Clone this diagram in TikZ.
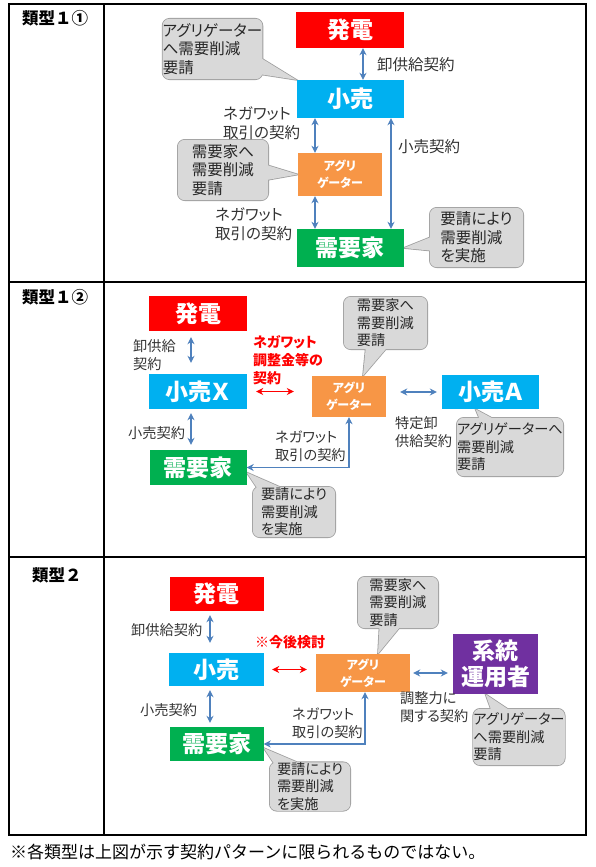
\documentclass[tikz,border=0pt]{standalone}
\usepackage{fontspec}
\setmainfont{Noto Sans CJK JP}[RawFeature=+palt]
\newfontfamily\plainjp{Noto Sans CJK JP}
\usetikzlibrary{arrows.meta,calc}
\pgfdeclarelayer{bg}
\pgfsetlayers{bg,main}
\definecolor{cred}{HTML}{FF0000}
\definecolor{cblue}{HTML}{00B0F0}
\definecolor{corange}{HTML}{F79646}
\definecolor{cgreen}{HTML}{00B050}
\definecolor{cpurple}{HTML}{7030A0}
\definecolor{clink}{HTML}{4F81BD}

% bubble shape with its pointer, drawn behind the bubble text
\newcommand\calloutto[2]{%
  \begin{pgfonlayer}{bg}
    \draw[bubbleedge] [rounded corners=7pt] (#1.south west) rectangle (#1.north east)
      [sharp corners] ($(#1.center)!18pt!90:(#2)$) -- (#2) -- ($(#1.center)!18pt!-90:(#2)$) -- cycle;
    \fill[bubblebody] [rounded corners=7pt] (#1.south west) rectangle (#1.north east)
      [sharp corners] ($(#1.center)!18pt!90:(#2)$) -- (#2) -- ($(#1.center)!18pt!-90:(#2)$) -- cycle;
  \end{pgfonlayer}}

\begin{document}
\begin{tikzpicture}[x=1pt,y=-1pt,
    box/.style={inner sep=0pt, align=center, text=white, font=\fontsize{23}{26}\selectfont\bfseries},
    agg/.style={fill=corange, inner sep=0pt, align=center, text=white, font=\fontsize{12}{17}\selectfont\bfseries},
    lbl/.style={anchor=west, inner sep=0pt, align=left, text=black!80, font=\fontsize{14.2}{17.5}\selectfont},
    redlbl/.style={anchor=west, inner sep=0pt, align=left, text=cred, font=\fontsize{14}{18}\selectfont\bfseries},
    bubble/.style={inner sep=0pt, align=left, text=black!85, font=\fontsize{14.2}{17.5}\selectfont},
    big/.style={font=\fontsize{15.5}{18.5}\selectfont},
    bubbleedge/.style={draw=black!38, line width=1.6pt},
    bubblebody/.style={fill=black!15},
    link/.style={{Stealth[length=7pt,width=7pt]}-{Stealth[length=7pt,width=7pt]}, clink, line width=1.8pt},
    redlink/.style={{Stealth[length=7pt,width=7pt]}-{Stealth[length=7pt,width=7pt]}, cred, line width=1.3pt},
    rowlbl/.style={anchor=west, inner sep=0pt, font=\plainjp\fontsize{16.5}{18}\selectfont\bfseries},
    note/.style={anchor=west, inner sep=0pt, font=\plainjp\fontsize{17}{20}\selectfont}]
  \useasboundingbox (0,0) rectangle (595,867);

  % table
  \draw[line width=1.2pt] (9,4) rectangle (586,835);
  \draw[line width=1.2pt] (104,4) -- (104,835);
  \draw[line width=1.2pt] (9,282) -- (586,282);
  \draw[line width=1.2pt] (9,557) -- (586,557);
  \node[rowlbl] (row1) at (22,18) {類型１①};
  \node[rowlbl] (row2) at (22,297) {類型１②};
  \node[rowlbl] (row3) at (32,575) {類型２};

  % type 1-1
  \node[box, fill=cred, minimum width=108pt, minimum height=36pt] (hatsuden1) at (350,30) {発電};
  \node[box, fill=cblue, minimum width=107pt, minimum height=38pt] (kouri1) at (350,99) {小売};
  \node[agg, minimum width=84pt, minimum height=43pt] (agg1) at (340,174.5) {アグリ\\ゲーター};
  \node[box, fill=cgreen, minimum width=107pt, minimum height=38pt] (juyou1) at (350,248) {需要家};
  \draw[link] ([xshift=13pt]hatsuden1.south) -- ([xshift=13pt]kouri1.north);
  \draw[link] ([xshift=-25pt]agg1.north) -- ([xshift=-25pt]kouri1.south -| agg1.north);
  \draw[link] ([xshift=-25pt]agg1.south) -- ([xshift=-25pt]juyou1.north -| agg1.south);
  \draw[link] ([xshift=41pt]kouri1.south) -- ([xshift=41pt]juyou1.north);
  \node[lbl, big] (l1a) at (377,65) {卸供給契約};
  \node[lbl, big] (l1b) at (223,123) {ネガワット\\取引の契約};
  \node[lbl, big] (l1c) at (215,224) {ネガワット\\取引の契約};
  \node[lbl, big] (l1d) at (398,147) {小売契約};
  \node[bubble, big, minimum width=99pt, minimum height=60pt] (b1a) at (212.5,49) {アグリゲーター\\へ需要削減\\要請};
  \node[bubble, big, minimum width=90pt, minimum height=60pt] (b1b) at (223,170) {需要家へ\\需要削減\\要請};
  \node[bubble, big, minimum width=93pt, minimum height=59pt] (b1c) at (476.5,237.5) {要請により\\需要削減\\を実施};
  \calloutto{b1a}{kouri1.north west}
  \calloutto{b1b}{agg1.west}
  \calloutto{b1c}{juyou1.east}

  % type 1-2
  \node[box, fill=cred, minimum width=98pt, minimum height=35pt] (hatsuden2) at (198,313.5) {発電};
  \node[box, fill=cblue, minimum width=98pt, minimum height=35pt] (kouriX) at (198,391.5) {小売Ｘ};
  \node[box, fill=cgreen, minimum width=97pt, minimum height=35pt] (juyou2) at (198,467.5) {需要家};
  \node[agg, minimum width=74pt, minimum height=41pt] (agg2) at (349,396.5) {アグリ\\ゲーター};
  \node[box, fill=cblue, minimum width=97pt, minimum height=34pt] (kouriA) at (490.5,392) {小売Ａ};
  \draw[link, shorten <=6pt, shorten >=11pt] ([xshift=-7pt]hatsuden2.south) -- ([xshift=-7pt]kouriX.north);
  \draw[link, shorten <=4pt, shorten >=5pt] ([xshift=-7pt]kouriX.south) -- ([xshift=-7pt]juyou2.north);
  \draw[link, shorten <=14pt, shorten >=5pt] (kouriA.west -| agg2.east) -- (kouriA.west);
  \draw[link] (agg2.south) |- (juyou2.east);
  \draw[redlink, shorten <=9pt, shorten >=18pt] (kouriX.east) -- (kouriX.east -| agg2.west);
  \node[lbl] (l2a) at (133,355) {卸供給\\契約};
  \node[redlbl] (l2b) at (253,360) {ネガワット\\調整金等の\\契約};
  \node[lbl] (l2c) at (128,433) {小売契約};
  \node[lbl] (l2d) at (275,446) {ネガワット\\取引の契約};
  \node[lbl] (l2e) at (395,432) {特定卸\\供給契約};
  \node[bubble, minimum width=83pt, minimum height=52pt] (b2a) at (385.5,323) {需要家へ\\需要削減\\要請};
  \node[bubble, minimum width=82pt, minimum height=50pt] (b2b) at (294,512) {要請により\\需要削減\\を実施};
  \node[bubble, minimum width=106pt, minimum height=58pt] (b2c) at (510,447) {アグリゲーターへ\\需要削減\\要請};
  \coordinate (t2a) at ([xshift=14pt]agg2.north);
  \coordinate (t2b) at ([yshift=-5pt]juyou2.east);
  \coordinate (t2c) at ([xshift=-15pt]kouriA.south);
  \calloutto{b2a}{t2a}
  \calloutto{b2b}{t2b}
  \calloutto{b2c}{t2c}

  % type 2
  \node[box, fill=cred, minimum width=94pt, minimum height=34pt] (hatsuden3) at (216.5,594) {発電};
  \node[box, fill=cblue, minimum width=95pt, minimum height=33pt] (kouri3) at (216.5,669.5) {小売};
  \node[box, fill=cgreen, minimum width=94pt, minimum height=34pt] (juyou3) at (216.5,744) {需要家};
  \node[agg, minimum width=94pt, minimum height=38pt] (agg3) at (363,673) {アグリ\\ゲーター};
  \node[box, fill=cpurple, minimum width=85pt, minimum height=60pt] (keitou) at (495.5,664) {系統\\運用者};
  \draw[link, shorten <=4pt, shorten >=10pt] ([xshift=-6.5pt]hatsuden3.south) -- ([xshift=-6.5pt]kouri3.north);
  \draw[link, shorten <=4pt, shorten >=4pt] ([xshift=-6.5pt]kouri3.south) -- ([xshift=-6.5pt]juyou3.north);
  \draw[link, shorten <=3pt, shorten >=5pt] (agg3.east) -- (agg3.east -| keitou.west);
  \draw[link] ([xshift=2pt]agg3.south) |- (juyou3.east);
  \draw[redlink, shorten <=8pt, shorten >=9pt] (kouri3.east) -- (kouri3.east -| agg3.west);
  \node[lbl] (l3a) at (131,630) {卸供給契約};
  \node[redlbl] (l3b) at (255,642) {※今後検討};
  \node[lbl] (l3c) at (140,710) {小売契約};
  \node[lbl] (l3d) at (292,723) {ネガワット\\取引の契約};
  \node[lbl] (l3e) at (400,707) {調整力に\\関する契約};
  \node[bubble, minimum width=86pt, minimum height=56pt] (b3b) at (519,737) {アグリゲーター\\へ需要削減\\要請};
  \node[bubble, minimum width=80pt, minimum height=51pt] (b3a) at (398,602.5) {需要家へ\\需要削減\\要請};
  \node[bubble, minimum width=80pt, minimum height=47pt] (b3c) at (310,786.5) {要請により\\需要削減\\を実施};
  \coordinate (t3a) at ([xshift=15pt]agg3.north);
  \coordinate (t3b) at ([xshift=-10pt]keitou.south);
  \coordinate (t3c) at ([yshift=-4pt]juyou3.east);
  \calloutto{b3a}{t3a}
  \calloutto{b3b}{t3b}
  \calloutto{b3c}{t3c}

  \node[note] (note) at (10,852) {※各類型は上図が示す契約パターンに限られるものではない。};
\end{tikzpicture}
\end{document}
